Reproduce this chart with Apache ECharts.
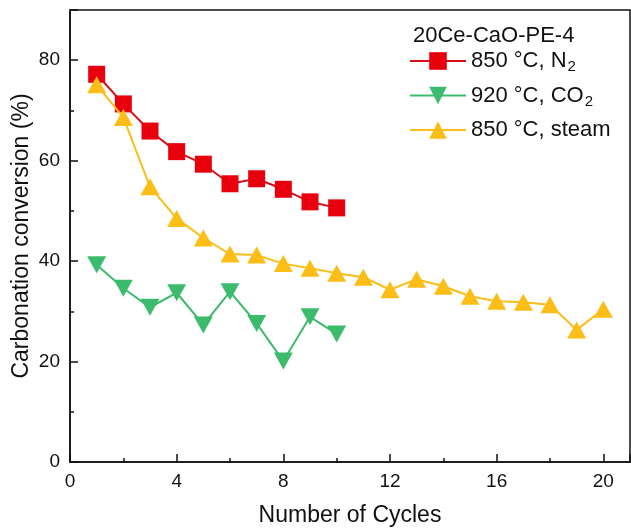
<!DOCTYPE html>
<html>
<head>
<meta charset="utf-8">
<script src="https://cdn.jsdelivr.net/npm/echarts@6/dist/echarts.min.js"></script>
<style>
  html, body { margin: 0; padding: 0; background: #fff; }
  #chart { width: 631px; height: 528px; }
</style>
</head>
<body>
<div id="chart"></div>
<script>
// cycles
var cyclesShort = [1, 2, 3, 4, 5, 6, 7, 8, 9, 10];
var cyclesLong = [1, 2, 3, 4, 5, 6, 7, 8, 9, 10, 11, 12, 13, 14, 15, 16, 17, 18, 19, 20];
// carbonation conversion (%)
var n2Values = [77.2, 71.3, 65.9, 61.8, 59.3, 55.4, 56.4, 54.3, 51.8, 50.6];
var co2Values = [39.3, 34.6, 30.8, 33.7, 27.3, 33.9, 27.6, 20.1, 28.9, 25.5];
var steamValues = [75.1, 68.6, 54.8, 48.5, 44.6, 41.4, 41.2, 39.5, 38.6, 37.6,
                   36.8, 34.3, 36.4, 35.0, 33.0, 32.0, 31.8, 31.3, 26.3, 30.4];
var seriesNames = ["850 °C, N2", "920 °C, CO2", "850 °C, steam"];
var legendLabels = {
  "850 °C, N2": "{t|850 °C, N}{s|2}",
  "920 °C, CO2": "{t|920 °C, CO}{s|2}",
  "850 °C, steam": "{t|850 °C, steam}"
};

function pairs(xs, ys) {
  var out = [];
  for (var i = 0; i < ys.length; i++) out.push([xs[i], ys[i]]);
  return out;
}

var chart = echarts.init(document.getElementById("chart"));
var font = "Arial, 'Liberation Sans', sans-serif";

chart.setOption({
  animation: false,
  title: {
    text: "20Ce-CaO-PE-4",
    left: 408,
    top: 20,
    textStyle: { fontFamily: font, fontSize: 22, fontWeight: "normal", color: "#111" }
  },
  legend: {
    data: seriesNames,
    orient: "vertical",
    left: 404,
    top: 50,
    padding: [0, 5],
    itemWidth: 56,
    itemHeight: 22,
    itemGap: 10,
    formatter: function (name) { return legendLabels[name]; },
    textStyle: {
      fontFamily: font,
      color: "#111",
      rich: {
        t: { fontFamily: font, fontSize: 22, color: "#111" },
        s: { fontFamily: font, fontSize: 15, color: "#111", padding: [12, 0, 0, 1] }
      }
    }
  },
  grid: {
    left: 70, top: 10, right: 1, bottom: 66,
    outerBoundsMode: "none",
    containLabel: false,
    show: true, borderColor: "#111", borderWidth: 1.5
  },
  xAxis: {
    type: "value",
    min: 0, max: 21, interval: 4,
    name: "Number of Cycles",
    nameLocation: "middle",
    nameGap: 42,
    nameMoveOverlap: false,
    nameTextStyle: { fontFamily: font, fontSize: 23, color: "#111" },
    axisLine: { lineStyle: { color: "#111", width: 1.5 } },
    axisTick: { inside: true, length: 8, lineStyle: { color: "#111", width: 1.5 } },
    minorTick: { show: true, splitNumber: 2, length: 4, lineStyle: { color: "#111", width: 1.5 } },
    axisLabel: {
      fontFamily: font, fontSize: 19, color: "#111", margin: 10,
      formatter: function (v) { return v > 20 ? "" : v; }
    },
    splitLine: { show: false }
  },
  yAxis: {
    type: "value",
    min: 0, max: 90, interval: 20,
    name: "Carbonation conversion (%)",
    nameLocation: "middle",
    nameGap: 37,
    nameMoveOverlap: false,
    nameTextStyle: { fontFamily: font, fontSize: 23, color: "#111" },
    axisLine: { show: true, lineStyle: { color: "#111", width: 1.5 } },
    axisTick: { show: true, inside: true, length: 8, lineStyle: { color: "#111", width: 1.5 } },
    minorTick: { show: true, splitNumber: 2, length: 4, lineStyle: { color: "#111", width: 1.5 } },
    axisLabel: {
      fontFamily: font, fontSize: 19, color: "#111", margin: 10,
      formatter: function (v) { return v > 80 ? "" : v; }
    },
    splitLine: { show: false }
  },
  series: [
    {
      name: seriesNames[0],
      type: "line",
      data: pairs(cyclesShort, n2Values),
      symbol: "rect",
      symbolSize: 17,
      lineStyle: { color: "#d5101a", width: 2 },
      itemStyle: { color: "#e8000d" },
      z: 3
    },
    {
      name: seriesNames[1],
      type: "line",
      data: pairs(cyclesShort, co2Values),
      symbol: "triangle",
      symbolRotate: 180,
      symbolSize: [19, 17],
      lineStyle: { color: "#3dbb6c", width: 2 },
      itemStyle: { color: "#3dbb6c" },
      z: 2
    },
    {
      name: seriesNames[2],
      type: "line",
      data: pairs(cyclesLong, steamValues),
      symbol: "triangle",
      symbolSize: [19, 17],
      lineStyle: { color: "#fbbd18", width: 2 },
      itemStyle: { color: "#fcbd17" },
      z: 4
    }
  ]
});
</script>
</body>
</html>
